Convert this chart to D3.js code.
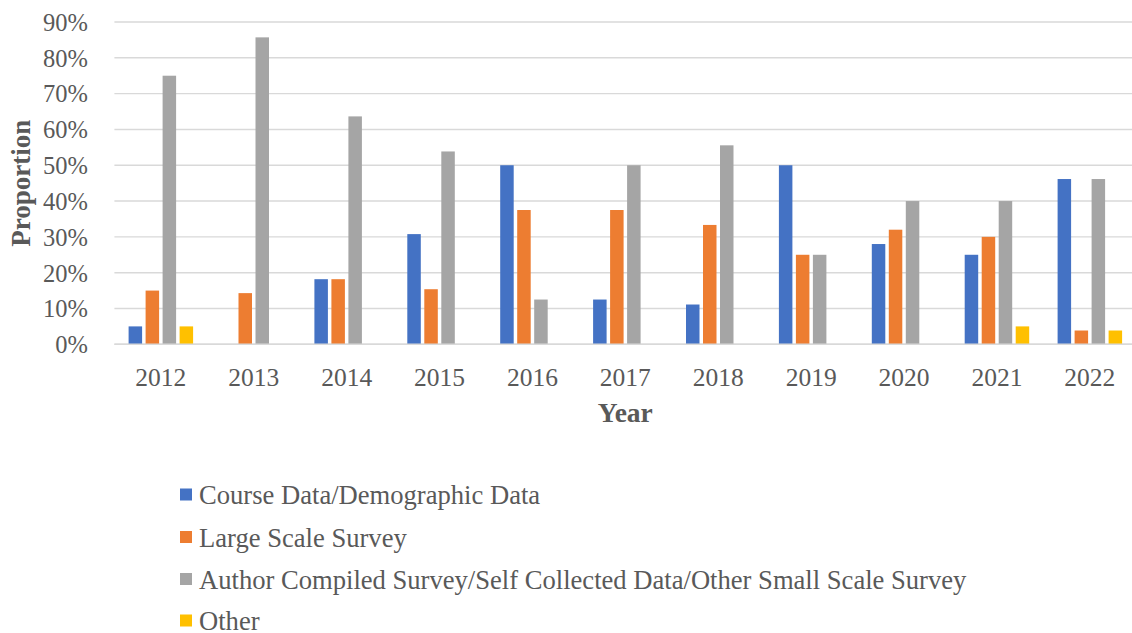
<!DOCTYPE html>
<html>
<head>
<meta charset="utf-8">
<script src="https://cdn.jsdelivr.net/npm/d3@7"></script>
<style>
  html, body { margin: 0; padding: 0; background: #fff; }
  svg { display: block; }
  text { font-family: "Liberation Serif", "Times New Roman", serif; }
</style>
</head>
<body>
<svg id="chart" width="1132" height="633"></svg>
<script>
const years = ["2012","2013","2014","2015","2016","2017","2018","2019","2020","2021","2022"];
const seriesNames = [
  "Course Data/Demographic Data",
  "Large Scale Survey",
  "Author Compiled Survey/Self Collected Data/Other Small Scale Survey",
  "Other"
];
const courseData = [0.05, 0, 0.1818, 0.3077, 0.50, 0.125, 0.1111, 0.50, 0.28, 0.25, 0.4615];
const largeSurvey = [0.15, 0.1429, 0.1818, 0.1538, 0.375, 0.375, 0.3333, 0.25, 0.32, 0.30, 0.0385];
const authorSurvey = [0.75, 0.8571, 0.6364, 0.5385, 0.125, 0.50, 0.5556, 0.25, 0.40, 0.40, 0.4615];
const otherData = [0.05, 0, 0, 0, 0, 0, 0, 0, 0, 0.05, 0.0385];
const yTicks = [0, 0.1, 0.2, 0.3, 0.4, 0.5, 0.6, 0.7, 0.8, 0.9];
const colors = ["#4472C4", "#ED7D31", "#A5A5A5", "#FFC000"];

const seriesValues = [courseData, largeSurvey, authorSurvey, otherData];

const svg = d3.select("#chart");
const W = 1132;

const x0 = d3.scaleBand().domain(years).range([114.4, 1136.3]).paddingInner(0).paddingOuter(0);
const x1 = d3.scaleBand().domain(d3.range(seriesNames.length)).range([0, 64.5]).paddingInner(0.206).paddingOuter(0);
const groupOffset = (x0.bandwidth() - 64.5) / 2;
const y = d3.scaleLinear().domain([0, 0.9]).range([344.3, 22]);

// gridlines
const grid = svg.append("g");
grid.selectAll("line").data(yTicks).join("line")
  .attr("x1", 114.4).attr("x2", W)
  .attr("y1", d => y(d)).attr("y2", d => y(d))
  .attr("stroke", "#D9D9D9").attr("stroke-width", 1.4);

// bars
const rows = [];
years.forEach((yr, i) => {
  seriesValues.forEach((arr, s) => {
    if (arr[i] > 0) rows.push({ year: yr, s, v: arr[i] });
  });
});
svg.append("g").selectAll("rect").data(rows).join("rect")
  .attr("x", d => x0(d.year) + groupOffset + x1(d.s))
  .attr("width", x1.bandwidth())
  .attr("y", d => y(d.v))
  .attr("height", d => y(0) - y(d.v))
  .attr("fill", d => colors[d.s]);

// baseline
svg.append("line")
  .attr("x1", 114.4).attr("x2", W)
  .attr("y1", y(0)).attr("y2", y(0))
  .attr("stroke", "#D9D9D9").attr("stroke-width", 1.6);

// y axis
const yAxis = d3.axisLeft(y).tickValues(yTicks).tickFormat(d3.format(".0%")).tickSize(0).tickPadding(0);
const yg = svg.append("g").attr("transform", "translate(88,0)").call(yAxis);
yg.select(".domain").remove();
yg.selectAll("text")
  .attr("fill", "#595959")
  .style("font-size", "24.5px")
  .style("font-family", "'Liberation Serif', serif")
  .attr("dy", "0.34em");

// x axis
const xAxis = d3.axisBottom(x0).tickSize(0).tickPadding(0);
const xg = svg.append("g").attr("transform", `translate(0,${y(0)})`).call(xAxis);
xg.select(".domain").remove();
xg.selectAll("text")
  .attr("fill", "#595959")
  .style("font-size", "25.5px")
  .style("font-family", "'Liberation Serif', serif")
  .attr("dy", null)
  .attr("y", 41.5);

// axis titles
svg.append("text")
  .attr("x", (114.4 + 1136.3) / 2).attr("y", 421.5)
  .attr("text-anchor", "middle")
  .attr("fill", "#595959")
  .style("font-size", "27.5px").style("font-weight", "bold")
  .text("Year");

svg.append("text")
  .attr("transform", `translate(30,${(y(0) + y(0.9)) / 2}) rotate(-90)`)
  .attr("text-anchor", "middle")
  .attr("fill", "#595959")
  .style("font-size", "27px").style("font-weight", "bold")
  .text("Proportion");

// legend
const legend = svg.append("g");
const legendRows = [495, 537.5, 579.5, 621];
seriesNames.forEach((name, i) => {
  legend.append("rect")
    .attr("x", 180).attr("y", legendRows[i] - 6.5)
    .attr("width", 12).attr("height", 12)
    .attr("fill", colors[i]);
  legend.append("text")
    .attr("x", 199).attr("y", legendRows[i])
    .attr("dy", "0.34em")
    .attr("fill", "#595959")
    .style("font-size", "26.6px")
    .text(name);
});
</script>
</body>
</html>
